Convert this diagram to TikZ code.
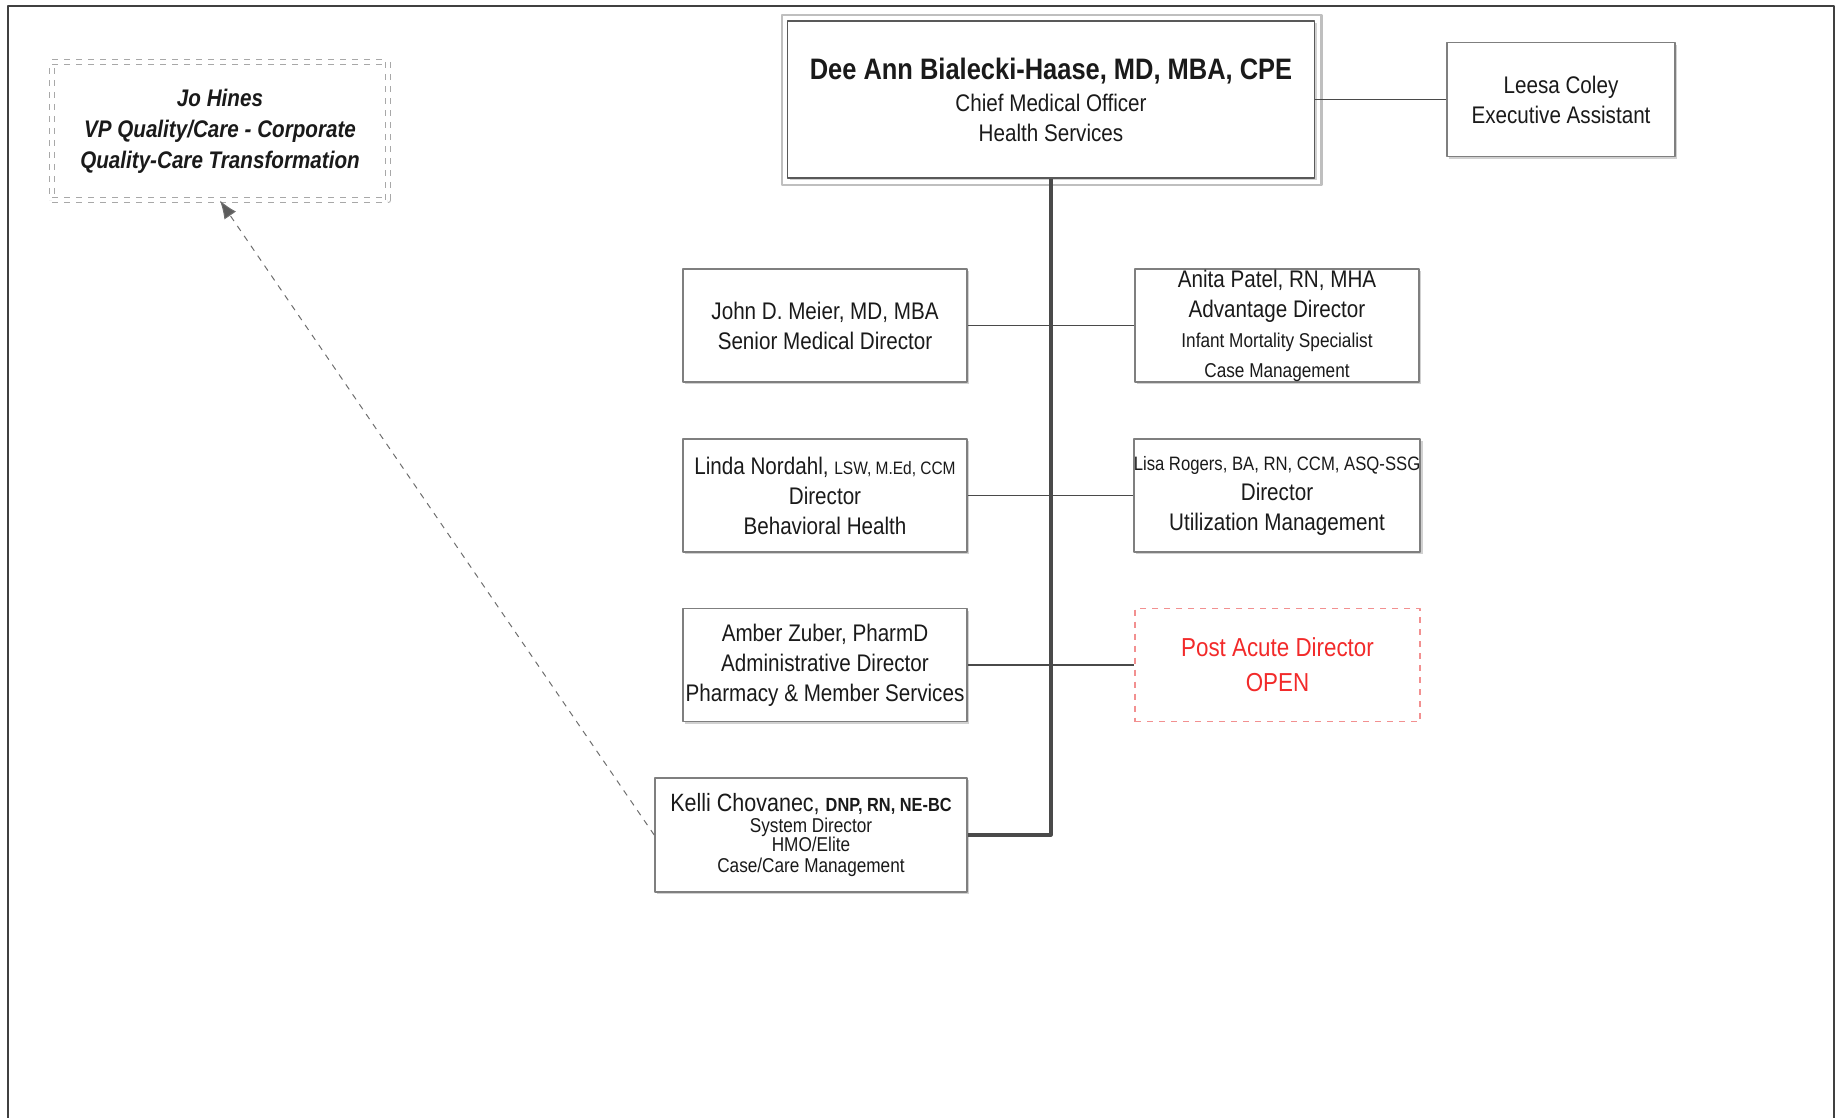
\documentclass[tikz,border=0pt]{standalone}
\usepackage{fontspec}
\setmainfont{Liberation Sans}[FakeStretch=0.86]
\usetikzlibrary{arrows.meta,shadows}

\definecolor{orgline}{HTML}{7F7F7F}
\definecolor{orgtrunk}{HTML}{4A4A4A}
\definecolor{orgtext}{HTML}{1A1A1A}
\definecolor{openred}{HTML}{F22A2A}
\definecolor{openedge}{HTML}{F29090}
\definecolor{dotgray}{HTML}{A8A8A8}

\begin{document}
\begin{tikzpicture}[
  x=0.5pt,
  y=-0.5pt,
  line join=round,
  posbox/.style={draw=orgline,line width=0.8pt,fill=white,text=orgtext,align=center,
    inner sep=0pt,minimum width=142pt,minimum height=56.5pt,
    font=\fontsize{12}{15}\selectfont,
    drop shadow={shadow xshift=1.2pt,shadow yshift=-1.2pt,fill=black!18,opacity=1}},
  openbox/.style={draw=openedge,dashed,line width=0.8pt,text=openred,align=center,
    inner sep=0pt,minimum width=142.5pt,minimum height=56.5pt,
    font=\fontsize{13}{17.5}\selectfont},
  dottedbox/.style={draw=dotgray,dashed,double=white,double distance=2.2pt,line width=0.6pt,
    text=orgtext,align=center,inner sep=0pt,minimum width=168pt,minimum height=69pt,
    font=\fontsize{12}{15.5}\selectfont\bfseries\itshape},
  trunk/.style={draw=orgtrunk,line width=1.6pt},
  branch/.style={draw=orgtrunk,line width=0.9pt},
  dotline/.style={draw=orgtrunk!80,dashed,line width=0.5pt,
    -{Latex[length=9pt,width=7pt,fill=orgtrunk!90]}}
]
  % Match the page frame of the exported chart.
  \useasboundingbox (0,0) rectangle (1837,1118);
  \draw[black!75,line width=1pt] (8,1118) -- (8,6) -- (1834,6) -- (1834,1118);

  % Top of the chart: the officer and the assistant.
  \node[posbox,draw=black!65,minimum width=263.5pt,minimum height=78.5pt] (cmo) at (1051,99.5)
    {{\fontsize{14.8}{17}\selectfont\bfseries Dee Ann Bialecki-Haase, MD, MBA, CPE}\\[1pt]
     Chief Medical Officer\\ Health Services};
  \draw[black!25,line width=1.2pt] ([shift={(-5,-5)}]cmo.north west) rectangle ([shift={(6,6)}]cmo.south east);
  \node[posbox,minimum width=114pt,minimum height=57pt] (leesa) at (1561,99.5)
    {Leesa Coley\\ Executive Assistant};

  % Dotted-line report on the far left.
  \node[dottedbox] (hines) at (220,131)
    {Jo Hines\\ VP Quality/Care - Corporate\\ Quality-Care Transformation};

  % Direct reports, left column.
  \node[posbox] (meier) at (825,325.5)
    {John D. Meier, MD, MBA\\ Senior Medical Director};
  \node[posbox] (nordahl) at (825,495.5)
    {Linda Nordahl, {\fontsize{9}{11}\selectfont LSW, M.Ed, CCM}\\ Director\\ Behavioral Health};
  \node[posbox] (zuber) at (825,665)
    {Amber Zuber, PharmD\\ Administrative Director\\ Pharmacy \& Member Services};
  \node[posbox,minimum width=156pt,minimum height=57pt,font=\fontsize{10}{9.5}\selectfont] (chovanec) at (811,835)
    {{\fontsize{12.5}{12}\selectfont Kelli Chovanec, }{\fontsize{9.5}{9}\selectfont\bfseries DNP, RN, NE-BC}\\[1pt]
     System Director\\ HMO/Elite\\[1pt] Case/Care Management};

  % Direct reports, right column.
  \node[posbox] (patel) at (1277,325.5)
    {Anita Patel, RN, MHA\\ Advantage Director\\
     {\fontsize{10}{14}\selectfont Infant Mortality Specialist}\\
     {\fontsize{10}{14}\selectfont Case Management}};
  \node[posbox] (rogers) at (1277,495.5)
    {{\fontsize{9.7}{12}\selectfont Lisa Rogers, BA, RN, CCM, ASQ-SSG}\\ Director\\ Utilization Management};
  \node[openbox] (postacute) at (1277.5,665)
    {Post Acute Director\\ OPEN};

  % Reporting lines.
  \draw[branch] (cmo.east) -- (leesa.west);
  \draw[trunk] (cmo.south) |- (chovanec.east);
  \draw[branch] (meier.east) -- (patel.west);
  \draw[branch] (nordahl.east) -- (rogers.west);
  \draw[branch] (zuber.east) -- (postacute.west);
  \draw[dotline] (chovanec.west) -- (hines.south);
\end{tikzpicture}
\end{document}
